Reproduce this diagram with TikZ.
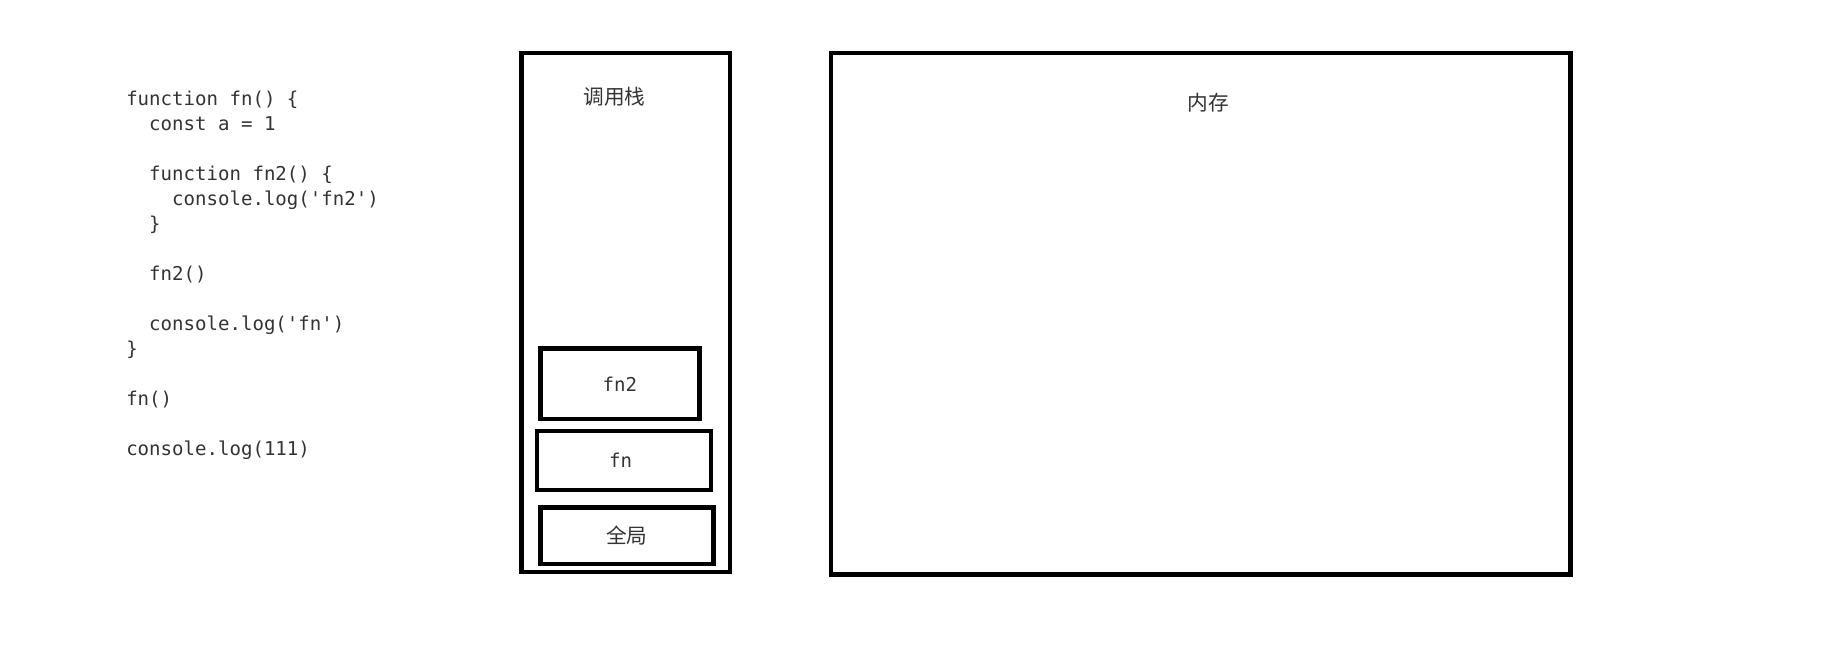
\documentclass[tikz,border=0pt]{standalone}
\usepackage{fontspec}
\setmonofont{DejaVu Sans Mono}
\newfontfamily\cjk{Noto Sans CJK SC}
\definecolor{ink}{HTML}{333333}
\newcommand{\ind}{\phantom{xx}}
\begin{document}
\begin{tikzpicture}[x=0.75pt,y=-0.75pt,
		frame/.style={draw,line width=3.2pt,inner sep=0pt},
		code/.style={font=\ttfamily\fontsize{14.3pt}{18.75pt}\selectfont,text=ink,inner sep=0pt},
		label/.style={font=\cjk\fontsize{15.5pt}{18pt}\selectfont,text=ink}]
		\useasboundingbox (0,0) rectangle (1846,648);
		% source code
		\node [code,align=left,anchor=north west] (src) at (126,90.5) {%
			function fn() \{\\
			\ind const a = 1\\
			\\
			\ind function fn2() \{\\
			\ind\ind console.log('fn2')\\
			\ind \}\\
			\\
			\ind fn2()\\
			\\
			\ind console.log('fn')\\
			\}\\
			\\
			fn()\\
			\\
			console.log(111)};
		% call stack
		\node [frame,minimum width=156.3pt,minimum height=389.3pt] (stack) at (625.8,312.5) {};
		\node [label] (stacktitle) at (614.5,96.5) {调用栈};
		\node [frame,code,minimum width=119.2pt,minimum height=53pt] (fntwo) at (619.9,383.8) {fn2};
		\node [frame,code,minimum width=130.7pt,minimum height=44.2pt,text depth=0pt,xshift=0pt] (fnone) at (624,460.4) {\hspace*{-5pt}fn};
		\node [frame,label,minimum width=129.8pt,minimum height=42.5pt] (global) at (626.9,535.7) {全局};
		% memory
		\node [frame,minimum width=554.5pt,minimum height=391.1pt] (heap) at (1200.9,313.8) {};
		\node [label] (heaptitle) at (1208,102.4) {内存};
\end{tikzpicture}
\end{document}
